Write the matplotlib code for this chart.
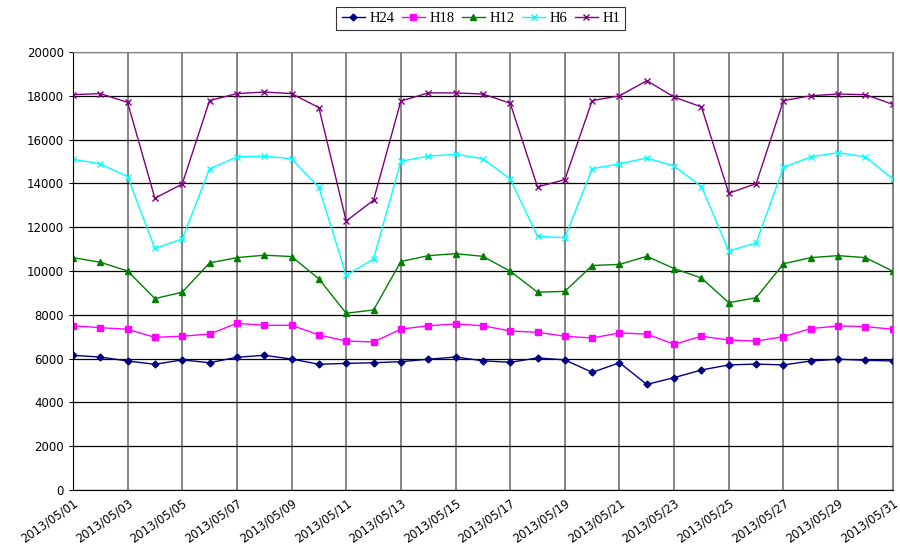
import matplotlib
matplotlib.use("Agg")
import matplotlib.pyplot as plt

days = ["2013/05/%02d" % d for d in range(1, 32)]

h24 = [6150, 6070, 5890, 5740, 5940, 5810, 6060, 6150, 5980, 5740,
       5780, 5810, 5860, 5970, 6070, 5900, 5830, 6030, 5940, 5370,
       5810, 4820, 5130, 5480, 5710, 5750, 5710, 5890, 5970, 5920, 5890]
h18 = [7500, 7410, 7340, 6970, 7020, 7120, 7610, 7520, 7520, 7080,
       6800, 6760, 7340, 7500, 7580, 7500, 7260, 7200, 7020, 6940,
       7170, 7120, 6650, 7020, 6850, 6800, 7000, 7370, 7490, 7460, 7340]
h12 = [10610, 10400, 10000, 8740, 9030, 10370, 10610, 10720, 10660, 9640,
       8070, 8220, 10430, 10700, 10790, 10670, 9990, 9030, 9070, 10250,
       10300, 10670, 10110, 9680, 8550, 8780, 10330, 10610, 10700, 10610, 9990]
h6 = [15100, 14890, 14310, 11030, 11460, 14660, 15210, 15240, 15130, 13820,
      9800, 10550, 15010, 15240, 15330, 15130, 14200, 11580, 11520, 14670,
      14890, 15160, 14790, 13850, 10910, 11280, 14730, 15210, 15400, 15210, 14200]
h1 = [18050, 18100, 17700, 13320, 13970, 17780, 18100, 18170, 18100, 17460,
      12280, 13230, 17760, 18130, 18130, 18080, 17660, 13840, 14170, 17780,
      18000, 18690, 17940, 17490, 13550, 13990, 17780, 18000, 18080, 18050, 17610]

series = [("H24", h24, "#000080", "D", 3.5),
          ("H18", h18, "#FF00FF", "s", 4.5),
          ("H12", h12, "#008000", "^", 5),
          ("H6", h6, "#00FFFF", "x", 4),
          ("H1", h1, "#800080", "x", 4)]

fig = plt.figure(figsize=(9, 5.46), dpi=100)
ax = fig.add_axes([0.081, 0.1026, 0.911, 0.8022])

x = list(range(len(days)))
for name, vals, col, mk, ms in series:
    ax.plot(x, vals, color=col, marker=mk, markersize=ms, linewidth=1,
            markeredgewidth=1, label=name)

ax.set_xlim(0, 30)
ax.set_ylim(0, 20000)
ax.set_yticks(range(0, 20001, 2000))
ax.set_xticks(x[::2])
ax.set_xticklabels(days[::2], rotation=35, ha="right", rotation_mode="anchor",
                   fontsize=8.3)
ax.tick_params(axis="y", labelsize=8.5, length=3)
ax.tick_params(axis="x", length=0, pad=5)

ax.yaxis.grid(True, color="black", linewidth=0.9)
ax.xaxis.grid(True, color="#707070", linewidth=1.2)
ax.set_axisbelow(True)
for s in ["top", "right"]:
    ax.spines[s].set_color("#808080")

leg = ax.legend(loc="upper center", bbox_to_anchor=(0.4976, 1.12), ncol=5,
                frameon=True, fancybox=False, edgecolor="black",
                prop={"family": "Liberation Serif", "size": 10.5},
                handlelength=1.6, columnspacing=0.5, handletextpad=0.3,
                borderpad=0.35)
leg.get_frame().set_linewidth(0.8)

fig.savefig("out.png", dpi=100)
